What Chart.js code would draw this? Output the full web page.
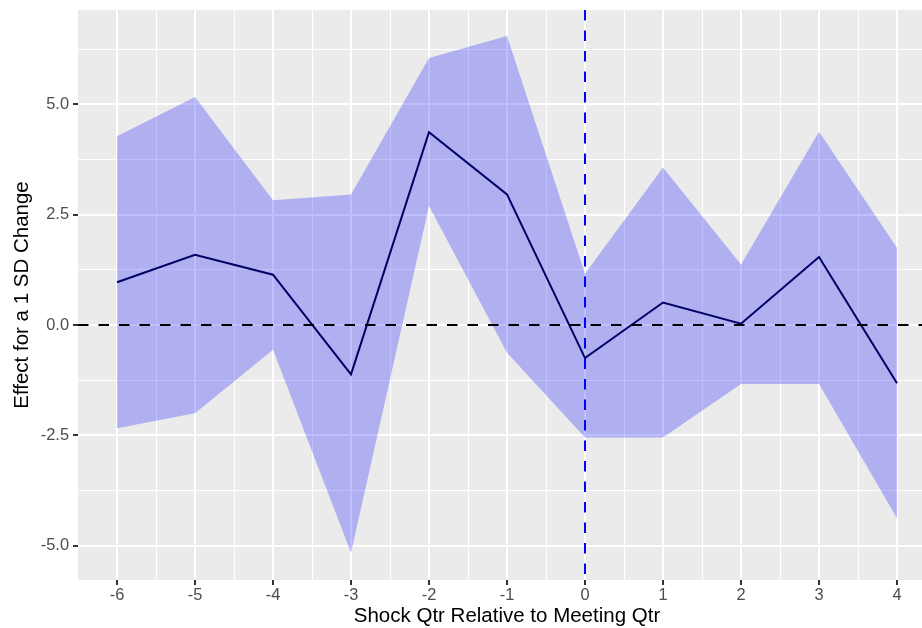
<!DOCTYPE html>
<html>
<head>
<meta charset="utf-8">
<script src="https://cdn.jsdelivr.net/npm/chart.js@4"></script>
<style>
  html, body { margin: 0; padding: 0; background: #fff; overflow: hidden; }
  #wrap { position: absolute; left: 0; top: 0; width: 936px; height: 628px; }
</style>
</head>
<body>
<div id="wrap"><canvas id="irf" width="936" height="628"></canvas></div>
<script>
// Values
const shockQtr = [-6, -5, -4, -3, -2, -1, 0, 1, 2, 3, 4];
const effect = [0.97, 1.59, 1.14, -1.12, 4.37, 2.96, -0.75, 0.51, 0.03, 1.54, -1.32];
const upperBand = [4.28, 5.17, 2.83, 2.96, 6.05, 6.55, 1.16, 3.57, 1.37, 4.38, 1.75];
const lowerBand = [-2.34, -2.00, -0.56, -5.16, 2.70, -0.63, -2.55, -2.55, -1.34, -1.34, -4.38];

const xMajor = [-6, -5, -4, -3, -2, -1, 0, 1, 2, 3, 4];
const xMinor = [-5.5, -4.5, -3.5, -2.5, -1.5, -0.5, 0.5, 1.5, 2.5, 3.5];
const yMajor = [-5, -2.5, 0, 2.5, 5];
const yMinor = [-3.75, -1.25, 1.25, 3.75, 6.25];

const FONT = "'Liberation Sans', Arial, sans-serif";

const pts = vals => shockQtr.map((x, i) => ({x, y: vals[i]}));
const tickList = (major, minor) => major.map(v => ({value: v, major: true}))
    .concat(minor.map(v => ({value: v, major: false})))
    .sort((a, b) => a.value - b.value);

// grey panel and the two dashed reference lines
const panel = {
    id: 'panel',
    beforeDraw(chart) {
        const {ctx, chartArea: a} = chart;
        ctx.save();
        ctx.fillStyle = '#EBEBEB';
        ctx.fillRect(a.left, a.top, a.right - a.left, a.bottom - a.top);
        ctx.restore();
    },
    afterDatasetsDraw(chart) {
        const {ctx, chartArea: a, scales} = chart;
        const y0 = scales.y.getPixelForValue(0);
        const x0 = scales.x.getPixelForValue(0);
        ctx.save();
        ctx.lineWidth = 2;
        ctx.setLineDash([10.5, 10]);
        ctx.strokeStyle = '#000';
        ctx.beginPath();
        ctx.moveTo(a.left, y0);
        ctx.lineTo(a.right, y0);
        ctx.stroke();
        ctx.strokeStyle = '#0000FF';
        ctx.beginPath();
        ctx.moveTo(x0, a.top);
        ctx.lineTo(x0, a.bottom);
        ctx.stroke();
        ctx.restore();
    }
};

const gridOpts = {
    color: '#FFFFFF',
    lineWidth: c => (c.tick && c.tick.major) ? 2 : 1,
    tickColor: c => (c.tick && c.tick.major) ? '#333333' : 'rgba(0,0,0,0)',
    tickWidth: 2,
    tickLength: 5,
    drawTicks: true
};

new Chart(document.getElementById('irf'), {
    type: 'line',
    data: {
        datasets: [
            {
                label: 'lower',
                data: pts(lowerBand),
                borderWidth: 0,
                pointRadius: 0,
                fill: false
            },
            {
                label: 'upper',
                data: pts(upperBand),
                borderWidth: 0,
                pointRadius: 0,
                backgroundColor: 'rgba(0,0,255,0.25)',
                fill: '-1'
            },
            {
                label: 'effect',
                data: pts(effect),
                borderColor: '#000033',
                borderWidth: 2,
                pointRadius: 0,
                fill: false,
                tension: 0
            }
        ]
    },
    options: {
        responsive: false,
        animation: false,
        devicePixelRatio: 1,
        layout: {padding: {top: 10, left: 0, right: 0, bottom: 0}},
        plugins: {legend: {display: false}, tooltip: {enabled: false}},
        scales: {
            x: {
                type: 'linear',
                min: -6.5,
                max: 4.5,
                border: {display: false},
                grid: gridOpts,
                afterBuildTicks: s => { s.ticks = tickList(xMajor, xMinor); },
                afterFit: s => { s.height = 48; s.paddingLeft = 0; s.paddingRight = 0; },
                ticks: {
                    autoSkip: false,
                    maxRotation: 0,
                    padding: 1,
                    color: '#4D4D4D',
                    font: {family: FONT, size: 16.4},
                    callback: (v, i, t) => t[i].major ? String(v) : ''
                },
                title: {
                    display: true,
                    text: 'Shock Qtr Relative to Meeting Qtr',
                    color: '#000',
                    font: {family: FONT, size: 20.5, lineHeight: 1},
                    padding: {top: 0, bottom: 1}
                }
            },
            y: {
                type: 'linear',
                min: -5.78,
                max: 7.14,
                border: {display: false},
                grid: gridOpts,
                afterBuildTicks: s => { s.ticks = tickList(yMajor, yMinor); },
                afterFit: s => { s.width = 78; s.paddingTop = 0; s.paddingBottom = 0; },
                ticks: {
                    autoSkip: false,
                    padding: 4,
                    color: '#4D4D4D',
                    font: {family: FONT, size: 16.4},
                    callback: (v, i, t) => t[i].major ? v.toFixed(1) : ''
                },
                title: {
                    display: true,
                    text: 'Effect for a 1 SD Change',
                    color: '#000',
                    font: {family: FONT, size: 20.5, lineHeight: 1},
                    padding: {top: 12, bottom: 0}
                }
            }
        }
    },
    plugins: [panel]
});
</script>
</body>
</html>
